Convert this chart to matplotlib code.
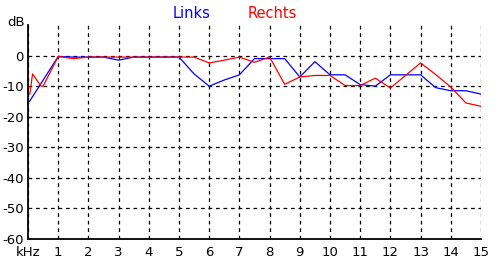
import matplotlib
matplotlib.use("Agg")
import matplotlib.pyplot as plt

# frequency points (kHz) and levels (dB)
freq_links = [0.05, 1.0, 1.5, 2.0, 2.5, 3.0, 3.5, 4.0, 4.5, 5.0, 5.5, 6.0, 6.5, 7.0,
              7.5, 8.0, 8.5, 9.0, 9.5, 10.0, 10.5, 11.0, 11.5, 12.0, 12.5, 13.0,
              13.5, 14.0, 14.5, 15.0]
db_links = [-15, -0.3, -0.5, -0.5, -0.5, -1.5, -0.5, -0.5, -0.5, -0.5, -6, -10, -8, -6.3,
            -1, -1, -1, -7, -2, -6.3, -6.3, -9.5, -10, -6.3, -6.3, -6.3,
            -10.5, -11.5, -11.5, -12.6]

freq_rechts = [0.06, 0.15, 0.43, 0.5, 1.0, 1.5, 2.0, 2.5, 3.0, 3.5, 4.0, 4.5, 5.0, 5.5,
               6.0, 6.5, 7.0, 7.5, 8.0, 8.5, 9.0, 9.5, 10.0, 10.5, 11.0, 11.5, 12.0,
               12.5, 13.0, 13.5, 14.0, 14.5, 15.0]
db_rechts = [-12.6, -6, -10, -10, -0.3, -1, -0.5, -0.5, -0.5, -0.5, -0.5, -0.5, -0.5, -0.5,
             -2.4, -1.5, -0.5, -2.2, -0.5, -9.4, -7, -6.5, -6.5, -9.8, -9.8, -7.4, -10.6,
             -6.5, -2.4, -6.2, -10.3, -15.5, -16.6]

# tick 0 carries the unit label, as in the original
x_ticks = list(range(0, 16))
x_labels = ["kHz"] + [str(v) for v in range(1, 16)]
y_ticks = [0, -10, -20, -30, -40, -50, -60]

W, H = 499, 273
fig = plt.figure(figsize=(W / 100, H / 100), dpi=100)
ax = fig.add_axes([28 / W, 34 / H, 453 / W, 214 / H])
ax.set_xlim(0, 15)
ax.set_ylim(-60, 10)

ax.plot(freq_links, db_links, color="#0000ff", lw=0.9, zorder=3)
ax.plot(freq_rechts, db_rechts, color="#ff0000", lw=0.9, zorder=4)

ax.set_xticks(x_ticks)
ax.set_xticklabels(x_labels)
ax.set_yticks(y_ticks)
ax.set_yticklabels([str(v) for v in y_ticks])
ax.tick_params(length=0, labelsize=9.5)
ax.tick_params(axis="y", pad=3)
ax.tick_params(axis="x", pad=5)
ax.grid(True, color="black", ls=(0, (3, 3)), lw=0.9)

for s in ["top", "right"]:
    ax.spines[s].set_visible(False)
ax.spines["left"].set_linewidth(1.3)
ax.spines["bottom"].set_linewidth(1.3)
ax.spines["left"].set_zorder(5)

fig.text(16 / W, 1 - 22 / H, "dB", ha="center", va="center", fontsize=9.5)
fig.text(192 / W, 1 - 13 / H, "Links", color="#0000ff", ha="center", va="center", fontsize=10.5)
fig.text(272 / W, 1 - 13 / H, "Rechts", color="#ff0000", ha="center", va="center", fontsize=10.5)

fig.savefig("out.png", dpi=100)
